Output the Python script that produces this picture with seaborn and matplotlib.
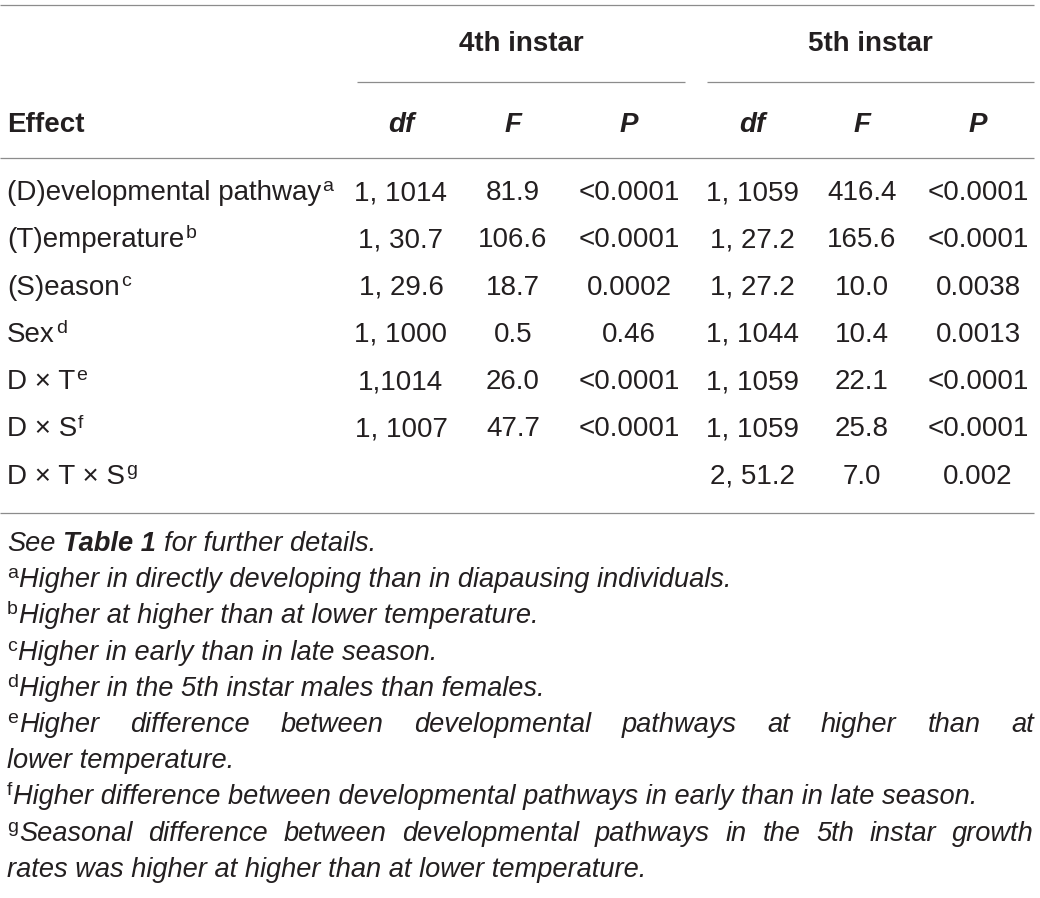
import numpy as np
import pandas as pd
import matplotlib
matplotlib.use("Agg")
import matplotlib.pyplot as plt
import seaborn as sns

# table contents
effects = ["(D)evelopmental pathway", "(T)emperature", "(S)eason", "Sex",
           "D \u00d7 T", "D \u00d7 S", "D \u00d7 T \u00d7 S"]
effect_marks = ["a", "b", "c", "d", "e", "f", "g"]
df_4th = ["1, 1014", "1, 30.7", "1, 29.6", "1, 1000", "1,1014", "1, 1007", ""]
F_4th = ["81.9", "106.6", "18.7", "0.5", "26.0", "47.7", ""]
P_4th = ["<0.0001", "<0.0001", "0.0002", "0.46", "<0.0001", "<0.0001", ""]
df_5th = ["1, 1059", "1, 27.2", "1, 27.2", "1, 1044", "1, 1059", "1, 1059", "2, 51.2"]
F_5th = ["416.4", "165.6", "10.0", "10.4", "22.1", "25.8", "7.0"]
P_5th = ["<0.0001", "<0.0001", "0.0038", "0.0013", "<0.0001", "<0.0001", "0.002"]
groups = ["4th instar", "5th instar"]
col_heads = ["df", "F", "P"]

# "\n" marks where the printed note breaks its line
footnotes = [
    "Higher in directly developing than in diapausing individuals.",
    "Higher at higher than at lower temperature.",
    "Higher in early than in late season.",
    "Higher in the 5th instar males than females.",
    "Higher difference between developmental pathways at higher than at\nlower temperature.",
    "Higher difference between developmental pathways in early than in late season.",
    "Seasonal difference between developmental pathways in the 5th instar growth\nrates was higher at higher than at lower temperature.",
]

table = pd.DataFrame({"effect": effects, "mark": effect_marks,
                      "df4": df_4th, "F4": F_4th, "P4": P_4th,
                      "df5": df_5th, "F5": F_5th, "P5": P_5th})

sns.set_theme(style="white")
plt.rcParams["font.family"] = ["Liberation Sans", "DejaVu Sans"]

W, H = 1040, 898
fig = plt.figure(figsize=(W / 100, H / 100), dpi=100)
ax = fig.add_axes([0, 0, 1, 1])
ax.set_xlim(0, W)
ax.set_ylim(H, 0)
ax.axis("off")
fig.canvas.draw()
renderer = fig.canvas.get_renderer()

TXT = "#231f20"
RULE = "#8c8c8c"
FS = 20
NFS = 19.6
SUP = 14
LEFT, RIGHT = 7, 1034


def width_of(s, fontsize=FS, style="normal", weight="normal"):
    t = ax.text(0, 0, s, fontsize=fontsize, style=style, weight=weight)
    bb = t.get_window_extent(renderer)
    t.remove()
    return bb.width


def sup(x, y, s):
    ax.text(x, y - 9, s, fontsize=SUP, color=TXT, va="baseline")
    return x + width_of(s, fontsize=SUP) + 1


def hrule(y, x0=0, x1=RIGHT):
    ax.plot([x0, x1], [y, y], color=RULE, lw=0.9, solid_capstyle="butt")


# rules
hrule(5)
hrule(82, 357, 685)
hrule(82, 707, RIGHT)
hrule(158)
hrule(513)

# group headers
group_x = [521, 870]
for g, gx in zip(groups, group_x):
    ax.text(gx, 51, g, fontsize=FS, weight="bold", color=TXT, ha="center", va="baseline")

col_x = [401, 513, 629, 752, 862, 978]
ax.text(LEFT, 132, "Effect", fontsize=FS, weight="bold", color=TXT, va="baseline")
for i, cx in enumerate(col_x):
    ax.text(cx, 132, col_heads[i % 3], fontsize=FS, weight="bold", style="italic",
            color=TXT, ha="center", va="baseline")

# body
row_y = 200 + 47.3 * np.arange(len(table))
for y, (_, r) in zip(row_y, table.iterrows()):
    ax.text(LEFT, y, r["effect"], fontsize=FS, color=TXT, va="baseline")
    sup(LEFT + width_of(r["effect"]) + 1, y, r["mark"])
    for cx, key in zip(col_x, ["df4", "F4", "P4", "df5", "F5", "P5"]):
        ax.text(cx, y, r[key], fontsize=FS, color=TXT, ha="center", va="baseline")

# notes
sp = width_of("a a", fontsize=NFS, style="italic") - width_of("aa", fontsize=NFS, style="italic")
line_h = 36.2
ny = 551
x = LEFT
for s, wt in [("See", "normal"), ("Table 1", "bold"), ("for further details.", "normal")]:
    ax.text(x, ny, s, fontsize=NFS, color=TXT, style="italic", weight=wt, va="baseline")
    x += width_of(s, fontsize=NFS, style="italic", weight=wt) + sp
ny += line_h

for mark, note in zip(effect_marks, footnotes):
    lines = [ln.split() for ln in note.split("\n")]
    for li, line in enumerate(lines):
        x = LEFT
        if li == 0:
            x = sup(x, ny, mark)
        if li < len(lines) - 1 and len(line) > 1:
            # justified line
            widths = [width_of(w, fontsize=NFS, style="italic") for w in line]
            gap = (RIGHT - x - sum(widths)) / (len(line) - 1)
            for w, wd in zip(line, widths):
                ax.text(x, ny, w, fontsize=NFS, color=TXT, style="italic", va="baseline")
                x += wd + gap
        else:
            ax.text(x, ny, " ".join(line), fontsize=NFS, color=TXT, style="italic", va="baseline")
        ny += line_h

fig.savefig("out.png", dpi=100, facecolor="white")
